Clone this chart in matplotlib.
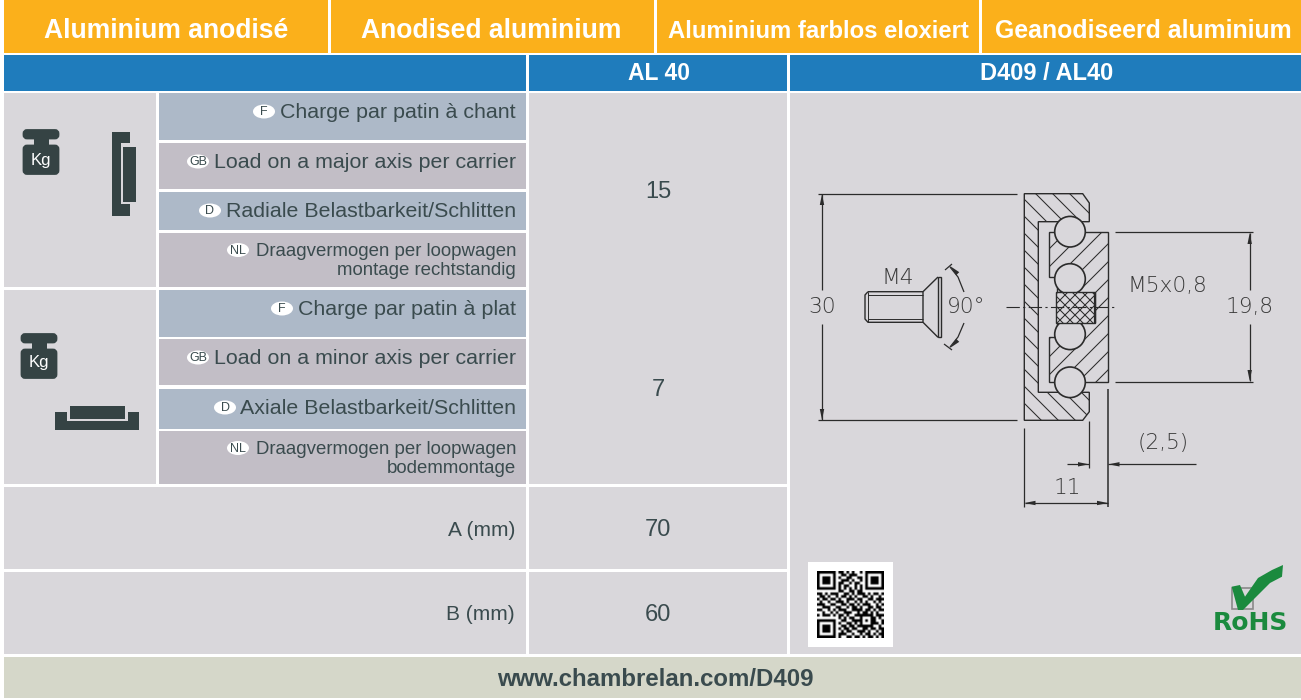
#!/usr/bin/env python3
"""Datasheet table for the anodised aluminium carrier AL 40 / D409."""

import matplotlib

matplotlib.use("Agg")
import matplotlib.pyplot as plt
import numpy as np
from matplotlib.patches import Circle, Ellipse, FancyBboxPatch, Polygon, Rectangle

plt.rcParams["font.family"] = ["Liberation Sans", "DejaVu Sans"]

# table content
header_labels = ["Aluminium anodisé", "Anodised aluminium", "Aluminium farblos eloxiert", "Geanodiseerd aluminium"]
model_labels = ["AL 40", "D409 / AL40"]
load_langs = ["F", "GB", "D", "NL", "F", "GB", "D", "NL"]
load_labels = [
    "Charge par patin à chant",
    "Load on a major axis per carrier",
    "Radiale Belastbarkeit/Schlitten",
    "Draagvermogen per loopwagen\nmontage rechtstandig",
    "Charge par patin à plat",
    "Load on a minor axis per carrier",
    "Axiale Belastbarkeit/Schlitten",
    "Draagvermogen per loopwagen\nbodemmontage",
]
load_values = ["15", "7"]
dim_labels = ["A (mm)", "B (mm)"]
dim_values = ["70", "60"]
footer_label = "www.chambrelan.com/D409"

# QR modules, read by eye
qr_rows = [
    "1111111011010100101111111",
    "1000001001101110001000001",
    "1011101010011001101011101",
    "1011101001110100101011101",
    "1011101011001011001011101",
    "1000001010110010101000001",
    "1111111010101010101111111",
    "0000000011001101100000000",
    "1101011100110101110101101",
    "0110100101101010011010010",
    "1011011010011101100110111",
    "0100100111010010101001010",
    "1110011001101101011100101",
    "0011100110010110100110110",
    "1100101011100111101101011",
    "0010010100111001011010100",
    "1011101011010011111110111",
    "0000000010101100100011010",
    "1111111001100111101011001",
    "1000001010011010100011101",
    "1011101001101101111110010",
    "1011101010110110011011011",
    "1011101001011001110100101",
    "1000001011100100101101011",
    "1111111010011011010110101",
]

ORANGE = "#fbb01b"
BLUE = "#1f7cbc"
BG = "#d9d7db"
ROW_A = "#adb9c8"
ROW_B = "#c2bec6"
FOOT = "#d5d7c9"
DARK = "#354344"
TEXT = "#3a4b4e"
GREEN = "#1b8a3e"
LINE = "#2b2b2b"

fig = plt.figure(figsize=(13.01, 7.0), dpi=100, facecolor="white")
ax = fig.add_axes([0, 0, 1, 1])
ax.set_xlim(0, 1301)
ax.set_ylim(700, 0)
ax.axis("off")


def cell(x0, x1, y0, y1, color):
    ax.add_patch(Rectangle((x0, y0), x1 - x0, y1 - y0, fc=color, ec="none"))


def line(xs, ys, lw=0.9, color=LINE, **kw):
    ax.plot(xs, ys, color=color, lw=lw, solid_capstyle="butt", **kw)


def arrow(x_tip, y_tip, dx, dy):
    # small filled arrow head pointing at the tip, (dx, dy) is the direction
    nx, ny = -dy, dx
    ax.add_patch(Polygon(
        [(x_tip, y_tip),
         (x_tip - dx * 11 + nx * 2.2, y_tip - dy * 11 + ny * 2.2),
         (x_tip - dx * 11 - nx * 2.2, y_tip - dy * 11 - ny * 2.2)],
        fc=LINE, ec="none", zorder=4))


def hatch_lines(poly, spacing, down, zorder):
    # 45 degree lines clipped to the outline; down=True runs "\" on screen, else "/"
    if down:
        offsets = np.arange(400, 1300, spacing)
        xy = [([c, c + 800], [0, 800]) for c in offsets]
    else:
        offsets = np.arange(1100, 1700, spacing)
        xy = [([c, c - 800], [0, 800]) for c in offsets]
    for xs, ys in xy:
        ln, = ax.plot(xs, ys, color=LINE, lw=0.75, zorder=zorder)
        ln.set_clip_path(poly)


def hatched(points, spacing, down, zorder=2):
    poly = Polygon(points, fc=BG, ec=LINE, lw=1.0, zorder=zorder)
    ax.add_patch(poly)
    hatch_lines(poly, spacing, down, zorder)
    return poly


def kg_icon(x, y, text_dy):
    ax.add_patch(FancyBboxPatch((x + 2.5, y + 1.5), 34, 7.5, boxstyle="round,pad=0,rounding_size=3",
                                fc=DARK, ec=DARK, lw=2))
    cell(x + 12, x + 27, y + 9, y + 17, DARK)
    ax.add_patch(FancyBboxPatch((x + 2.5, y + 17), 34, 27.5, boxstyle="round,pad=0,rounding_size=3",
                                fc=DARK, ec=DARK, lw=2))
    ax.text(x + 19, y + text_dy, "Kg", color="white", fontsize=12, ha="center", va="center")


# header bands
header_x = [(4, 328), (331, 654), (657, 979), (982, 1301)]
header_fs = [19.1, 19.1, 17.2, 17.9]
header_cx = [166, 491.5, 818, 1143]
for (x0, x1), lab, fs, cx in zip(header_x, header_labels, header_fs, header_cx):
    cell(x0, x1, 0, 53, ORANGE)
    ax.text(cx, 31, lab, color="white", fontsize=fs, fontweight="bold", ha="center", va="center")

cell(4, 526, 55, 91, BLUE)
cell(529, 787, 55, 91, BLUE)
cell(790, 1301, 55, 91, BLUE)
ax.text(659, 73, model_labels[0], color="white", fontsize=16.5, fontweight="bold", ha="center", va="center")
ax.text(1047, 73, model_labels[1], color="white", fontsize=17, fontweight="bold", ha="center", va="center")

# load rows
row_y = [(93, 140), (143, 189), (192, 230), (233, 287), (290, 337), (339, 385), (389, 429), (431, 484)]
badge_x = [264, 198, 210, 238, 282, 198, 225, 238]
for i, (y0, y1) in enumerate(row_y):
    cell(159, 526, y0, y1, ROW_A if i % 2 == 0 else ROW_B)
    if "\n" in load_labels[i]:
        first, second = load_labels[i].split("\n")
        ax.text(516, y0 + 18.5, first, color=TEXT, fontsize=13.4, ha="right", va="center")
        ax.text(516, y0 + 37.5, second, color=TEXT, fontsize=13.4, ha="right", va="center")
        by = y0 + 17
    else:
        by = y0 + 18.5
        ax.text(516, by + 1, load_labels[i], color=TEXT, fontsize=15.38, ha="right", va="center")
    ax.add_patch(Ellipse((badge_x[i], by), 22, 14, fc="white", ec="none"))
    ax.text(badge_x[i], by + 0.5, load_langs[i], color=TEXT, fontsize=9, ha="center", va="center")

cell(4, 156, 93, 287, BG)
cell(4, 156, 290, 484, BG)

# icons on the left
kg_icon(21.5, 129, 31.5)
kg_icon(19.5, 333, 30)
cell(112, 130, 132, 216, DARK)
cell(120.5, 130.5, 143, 204, BG)
cell(122.5, 136, 147, 202, DARK)
cell(55, 139, 412, 430, DARK)
cell(67, 127.5, 411, 421, BG)
cell(69.5, 125, 406, 419, DARK)

# value column
cell(529, 787, 93, 484, BG)
ax.text(658, 191.5, load_values[0], color=TEXT, fontsize=17, ha="center", va="center")
ax.text(658, 389.5, load_values[1], color=TEXT, fontsize=17, ha="center", va="center")

# A / B rows
for (y0, y1), lab, val in zip([(487, 569), (572, 654)], dim_labels, dim_values):
    cell(4, 526, y0, y1, BG)
    cell(529, 787, y0, y1, BG)
    ym = (y0 + y1) / 2
    ax.text(515, ym + 2, lab, color=TEXT, fontsize=15, ha="right", va="center")
    ax.text(658, ym + 2, val, color=TEXT, fontsize=17, ha="center", va="center")

# drawing panel
cell(790, 1301, 93, 654, BG)

cell(4, 1301, 657, 698, FOOT)
ax.text(655, 679, footer_label, color=TEXT, fontsize=17.3, fontweight="bold", ha="center", va="center")

# section drawing
rail = [(1024.3, 193.7), (1082.7, 193.7), (1089.3, 203), (1089.3, 221.7), (1038.3, 221.7),
        (1038.3, 392.3), (1089.3, 392.3), (1089.3, 411.7), (1082.7, 420.3), (1024.3, 420.3)]
hatched(rail, 17, True)
carriage = [(1048.7, 232.3), (1108.3, 232.3), (1108.3, 381.7), (1048.7, 381.7), (1048.7, 336.7),
            (1057, 336.7), (1057, 277), (1048.7, 277)]
hatched(carriage, 18, False)
for yc in [231.7, 279, 334.3, 382.3]:
    ax.add_patch(Circle((1070, yc), 15.3, fc=BG, ec=LINE, lw=1.2, zorder=3))
insert = [(1056, 292), (1094.5, 292), (1094.5, 322.7), (1056, 322.7)]
insert_poly = hatched(insert, 10, True, zorder=4)
hatch_lines(insert_poly, 10, False, 4)
line([1094.5, 1094.5], [292, 322.7], lw=1.6, zorder=5)
line([1005.7, 1116], [307, 307], lw=0.8, linestyle=(0, (12, 3, 2, 3)), zorder=5)

# 30 dimension
line([818, 1017], [193.7, 193.7])
line([818, 1017], [420.3, 420.3])
line([822, 822], [194, 290])
line([822, 822], [324, 420])
arrow(822, 194, 0, -1)
arrow(822, 420, 0, 1)

# 19,8 dimension
line([1115, 1253], [232.3, 232.3])
line([1115, 1253], [381.7, 381.7])
line([1249.7, 1249.7], [233, 290])
line([1249.7, 1249.7], [324, 381])
arrow(1249.7, 233, 0, -1)
arrow(1249.7, 381, 0, 1)

# 11 and (2,5) dimensions
line([1089.3, 1089.3], [421, 468])
line([1108, 1108], [389, 507], lw=1.1)
line([1024.3, 1024.3], [428, 507])
line([1066.7, 1089], [464.3, 464.3])
line([1108, 1196], [464.3, 464.3])
arrow(1089, 464.3, 1, 0)
arrow(1108.5, 464.3, -1, 0)
line([1024.5, 1108], [503, 503])
arrow(1024.5, 503, -1, 0)
arrow(1108, 503, 1, 0)

# M4 screw
line([868, 923, 923, 868, 865, 865, 868], [291.7, 291.7, 322.3, 322.3, 319, 295, 291.7], lw=1.0)
line([868, 923], [295, 295], lw=0.7)
line([868, 923], [319, 319], lw=0.7)
line([868, 868], [292, 322], lw=0.7)
line([923, 938], [291.7, 277], lw=1.0)
line([923, 938], [322.3, 337.3], lw=1.0)
ax.add_patch(Rectangle((938, 277), 3, 60.3, fc=BG, ec=LINE, lw=1.0))

# 90 degree arc
line([950, 958, 964], [267, 277, 292], lw=0.9)
line([964, 958, 950], [323, 337, 347], lw=0.9)
line([945, 952], [270, 264], lw=0.9)
line([944, 952], [344, 350], lw=0.9)
arrow(950, 266, -0.7, -0.7)
arrow(950, 348, -0.7, 0.7)

drawing_text = [
    (822, 307, "30"), (898, 278, "M4"), (966, 307, "90°"), (1167, 285.7, "M5x0,8"),
    (1250, 307, "19,8"), (1163, 443, "(2,5)"), (1067, 488, "11"),
]
for tx, ty, lab in drawing_text:
    ax.text(tx, ty, lab, color="#3a3a3a", fontsize=15.7, ha="center", va="center",
            family=["DejaVu Sans"], fontweight="light", zorder=5)

# QR code
cell(808, 893, 562, 647, "white")
qr = np.array([[int(c) for c in row] for row in qr_rows])
ax.imshow(1 - qr, cmap="gray", vmin=0, vmax=1, extent=(817, 884, 638.5, 571.5),
          interpolation="antialiased", aspect="auto", zorder=3)
ax.set_xlim(0, 1301)
ax.set_ylim(700, 0)

# RoHS mark
ax.add_patch(Rectangle((1232, 588), 21, 21, fc="none", ec="#8a8a8a", lw=1.2, zorder=3))
check = [(1231.7, 586.7), (1240, 585), (1245, 596.7), (1258, 578), (1272, 570), (1283, 565),
         (1282, 576.7), (1270, 583), (1256, 597), (1243, 610), (1238, 610)]
ax.add_patch(Polygon(check, fc=GREEN, ec="none", zorder=4))
ax.text(1250.5, 623, "RoHS", color=GREEN, fontsize=18, fontweight="bold", ha="center", va="center",
        family=["DejaVu Sans"])

fig.savefig("out.png", dpi=100)
plt.close(fig)
